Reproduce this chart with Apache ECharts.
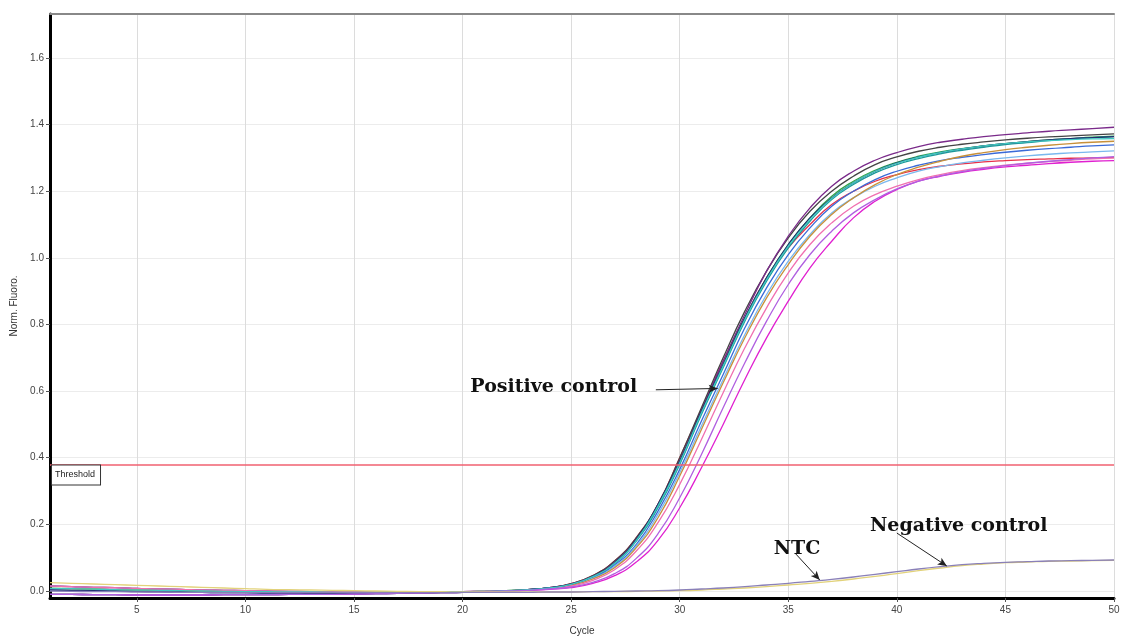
<!DOCTYPE html>
<html><head><meta charset="utf-8">
<script src="https://cdn.jsdelivr.net/npm/echarts@6/dist/echarts.min.js"></script>
<style>html,body{margin:0;padding:0;background:#fff}#c{width:1124px;height:637px}</style>
</head><body><div id="c"></div>
<script>
// Cycles 1..50
const cycles = Array.from({length: 50}, (_, i) => i + 1);
const xTicks = [5, 10, 15, 20, 25, 30, 35, 40, 45, 50];
const yTicks = [0, 0.2, 0.4, 0.6, 0.8, 1.0, 1.2, 1.4, 1.6];
const thresholdValue = 0.381;

// Baseline segments (cycles 1..22)
const base1 = [0.015,0.013,0.011,0.010,0.008,0.006,0.005,0.003,0.002,0.001,0.000,-0.001,-0.002,-0.003,-0.003,-0.004,-0.004,-0.003,-0.003,-0.002,-0.001,0.000];
const base2 = [-0.010,-0.010,-0.011,-0.011,-0.012,-0.012,-0.012,-0.012,-0.011,-0.011,-0.011,-0.010,-0.010,-0.010,-0.009,-0.008,-0.007,-0.006,-0.005,-0.004,-0.002,0.000];
const base3 = [0.003,0.002,0.001,0.000,-0.001,-0.002,-0.003,-0.004,-0.005,-0.005,-0.006,-0.006,-0.007,-0.007,-0.007,-0.006,-0.006,-0.005,-0.004,-0.003,-0.002,0.000];
const base4 = [0.008,0.007,0.006,0.004,0.003,0.002,0.001,0.000,-0.001,-0.002,-0.002,-0.003,-0.003,-0.004,-0.004,-0.004,-0.003,-0.003,-0.002,-0.002,-0.001,0.001];

// Amplification segments (cycles 23..50)
const tailRed     = [.004,.010,.022,.046,.09,.16,.26,.40,.545,.69,.82,.94,1.03,1.10,1.16,1.20,1.23,1.25,1.265,1.275,1.282,1.288,1.292,1.295,1.297,1.299,1.300,1.301];
const tailBlack   = [.004,.010,.022,.046,.09,.16,.26,.40,.55,.70,.84,.96,1.06,1.14,1.20,1.245,1.28,1.303,1.32,1.332,1.341,1.348,1.354,1.359,1.363,1.366,1.369,1.372];
const tailPurple  = [.004,.010,.021,.044,.086,.155,.255,.39,.54,.69,.83,.96,1.065,1.15,1.215,1.26,1.293,1.316,1.334,1.347,1.356,1.364,1.37,1.375,1.38,1.384,1.388,1.392];
const tailGreen   = [.004,.009,.02,.043,.084,.152,.255,.385,.535,.68,.82,.94,1.04,1.12,1.185,1.23,1.263,1.287,1.305,1.318,1.328,1.336,1.343,1.349,1.354,1.358,1.362,1.365];
const tailTeal    = [.004,.009,.02,.042,.082,.15,.25,.38,.53,.67,.81,.93,1.03,1.11,1.175,1.22,1.255,1.28,1.298,1.312,1.323,1.332,1.34,1.346,1.352,1.357,1.361,1.364];
const tailBlue    = [.003,.009,.019,.04,.078,.14,.24,.365,.51,.65,.79,.91,1.01,1.09,1.155,1.2,1.235,1.26,1.278,1.292,1.302,1.31,1.317,1.323,1.328,1.332,1.336,1.339];
const tailSky     = [.003,.008,.018,.038,.074,.135,.23,.355,.495,.635,.77,.89,.99,1.07,1.135,1.18,1.215,1.24,1.26,1.274,1.285,1.293,1.3,1.306,1.311,1.315,1.318,1.321];
const tailOrange  = [.003,.008,.017,.036,.07,.13,.22,.345,.485,.625,.76,.88,.98,1.065,1.13,1.18,1.22,1.25,1.272,1.29,1.305,1.316,1.325,1.332,1.338,1.343,1.347,1.35];
const tailPink    = [.003,.007,.015,.032,.064,.12,.205,.32,.455,.595,.73,.85,.955,1.04,1.105,1.155,1.19,1.215,1.235,1.25,1.262,1.271,1.278,1.284,1.289,1.293,1.297,1.30];
const tailMagenta = [.002,.005,.010,.023,.046,.087,.152,.25,.37,.50,.635,.76,.87,.97,1.05,1.12,1.17,1.205,1.23,1.245,1.257,1.266,1.273,1.278,1.283,1.287,1.290,1.292];
const tailNavy    = [.004,.01,.021,.044,.085,.155,.26,.39,.54,.68,.82,.94,1.04,1.12,1.18,1.225,1.26,1.285,1.303,1.316,1.327,1.336,1.343,1.349,1.354,1.358,1.361,1.364];
const tailCyan    = [.004,.009,.02,.043,.083,.152,.255,.385,.535,.675,.815,.935,1.035,1.115,1.178,1.225,1.26,1.284,1.302,1.316,1.327,1.336,1.343,1.348,1.352,1.355,1.357,1.358];
const tailViolet  = [.002,.006,.012,.026,.052,.098,.172,.28,.41,.55,.685,.81,.92,1.01,1.08,1.135,1.175,1.207,1.23,1.246,1.259,1.269,1.277,1.284,1.29,1.295,1.30,1.304];

// Controls (cycles 1..50)
const ntc = [0.000,-0.001,-0.002,-0.002,-0.003,-0.003,-0.004,-0.004,-0.004,-0.005,-0.005,-0.005,-0.005,-0.005,-0.005,-0.005,-0.005,-0.005,-0.005,-0.004,-0.004,-0.004,-0.004,-0.003,-0.003,-0.002,-0.001,0.000,0.001,0.003,0.006,0.009,0.013,0.018,0.023,0.029,0.035,0.042,0.050,0.058,0.066,0.073,0.079,0.083,0.086,0.088,0.090,0.091,0.092,0.093];
const negControl = [0.025,0.023,0.021,0.019,0.017,0.015,0.013,0.011,0.009,0.007,0.005,0.004,0.003,0.002,0.001,0.000,-0.001,-0.002,-0.002,-0.003,-0.003,-0.003,-0.003,-0.003,-0.003,-0.002,-0.002,-0.001,0.000,0.001,0.003,0.006,0.009,0.013,0.018,0.023,0.029,0.036,0.044,0.052,0.061,0.069,0.076,0.081,0.085,0.087,0.089,0.090,0.091,0.092];

const positives = [
  {b: base1, t: tailRed,     c: '#e8304a'},
  {b: base2, t: tailBlack,   c: '#444444'},
  {b: base3, t: tailPurple,  c: '#7a2a8a'},
  {b: base4, t: tailGreen,   c: '#2ea84a'},
  {b: base2, t: tailTeal,    c: '#1a9a9a'},
  {b: base1, t: tailBlue,    c: '#3a6ad8'},
  {b: base3, t: tailSky,     c: '#7ab8ee'},
  {b: base4, t: tailOrange,  c: '#c8903a'},
  {b: base1, t: tailPink,    c: '#f070b0'},
  {b: base2, t: tailMagenta, c: '#e020d0'},
  {b: base3, t: tailNavy,    c: '#203070'},
  {b: base4, t: tailCyan,    c: '#40c8c0'},
  {b: base2, t: tailViolet,  c: '#b060e0'}
];

const annFont = {fontFamily: 'DejaVu Serif', fontWeight: 'bold', fontSize: 19, color: '#111'};

const series = positives.map((p) => ({
  type: 'line', showSymbol: false, smooth: true, silent: true,
  data: cycles.map((x, k) => [x, p.b.concat(p.t)[k]]),
  lineStyle: {width: 1.3, color: p.c}
}));
series.push({type: 'line', showSymbol: false, smooth: true, data: cycles.map((x, k) => [x, negControl[k]]), lineStyle: {width: 1.3, color: '#e2d27a'}});
series.push({type: 'line', showSymbol: false, smooth: true, data: cycles.map((x, k) => [x, ntc[k]]), lineStyle: {width: 1.3, color: '#8a80b8'}});
// Threshold & annotations
const arrowStyle = {lineStyle: {color: '#222', width: 1, type: 'solid'}, label: {show: false}};
series.push({
  type: 'line', data: [], silent: true,
  markLine: {
    silent: true, animation: false, symbol: 'none',
    data: [
      {yAxis: thresholdValue, lineStyle: {color: '#f06070', width: 1.5, type: 'solid'},
       label: {show: true, position: 'insideStartBottom', formatter: 'Threshold', fontSize: 9, color: '#222',
               fontFamily: 'Liberation Sans', backgroundColor: '#fff', borderColor: '#333', borderWidth: 1,
               padding: [5, 5, 5, 3], distance: [2, 1]}},
      [Object.assign({coord: [28.9, 0.604], symbol: 'none'}, arrowStyle), Object.assign({coord: [31.75, 0.608], symbol: 'arrow', symbolSize: [6, 9]}, arrowStyle)],
      [Object.assign({coord: [35.35, 0.111], symbol: 'none'}, arrowStyle), Object.assign({coord: [36.45, 0.033], symbol: 'arrow', symbolSize: [6, 9]}, arrowStyle)],
      [Object.assign({coord: [40.0, 0.174], symbol: 'none'}, arrowStyle), Object.assign({coord: [42.3, 0.075], symbol: 'arrow', symbolSize: [6, 9]}, arrowStyle)]
    ]
  },
  markPoint: {
    silent: true, animation: false, symbol: 'circle', symbolSize: 0,
    data: [
      {coord: [24.2, 0.613], label: Object.assign({show: true, formatter: 'Positive control'}, annFont)},
      {coord: [35.4, 0.127], label: Object.assign({show: true, formatter: 'NTC'}, annFont)},
      {coord: [42.85, 0.195], label: Object.assign({show: true, formatter: 'Negative control'}, annFont)}
    ]
  }
});

const chart = echarts.init(document.getElementById('c'), null, {renderer: 'canvas'});
chart.setOption({
  animation: false,
  backgroundColor: '#fff',
  grid: {left: 50, right: 10, top: 14, bottom: 39, containLabel: false, outerBoundsMode: 'none'},
  xAxis: [{
    type: 'value', min: 1, max: 50,
    name: 'Cycle', nameLocation: 'middle', nameGap: 28,
    nameTextStyle: {fontSize: 10, color: '#333', fontFamily: 'Liberation Sans'},
    axisLine: {show: true, onZero: false, lineStyle: {color: '#000', width: 3}},
    axisTick: {show: true, customValues: xTicks, length: 4, lineStyle: {color: '#555'}},
    axisLabel: {customValues: xTicks, fontSize: 10, color: '#444', fontFamily: 'Liberation Sans', margin: 7},
    splitLine: {show: true, lineStyle: {color: '#dcdcdc', width: 1}}
  }, {
    type: 'value', min: 1, max: 50, position: 'top',
    axisLine: {show: true, onZero: false, lineStyle: {color: '#888', width: 2}},
    axisTick: {show: false}, axisLabel: {show: false}, splitLine: {show: false}
  }],
  yAxis: {
    type: 'value', min: -0.021, max: 1.732,
    name: 'Norm. Fluoro.', nameLocation: 'middle', nameGap: 28, nameRotate: 90,
    nameTextStyle: {fontSize: 10, color: '#333', fontFamily: 'Liberation Sans'},
    axisLine: {show: true, onZero: false, lineStyle: {color: '#000', width: 3}},
    axisTick: {show: true, customValues: yTicks, length: 4, lineStyle: {color: '#555'}},
    axisLabel: {customValues: yTicks, fontSize: 10, color: '#444', fontFamily: 'Liberation Sans', margin: 6,
                formatter: v => v.toFixed(1)},
    splitLine: {show: true, lineStyle: {color: '#ececec', width: 1}}
  },
  series: series
});
</script>
</body></html>
